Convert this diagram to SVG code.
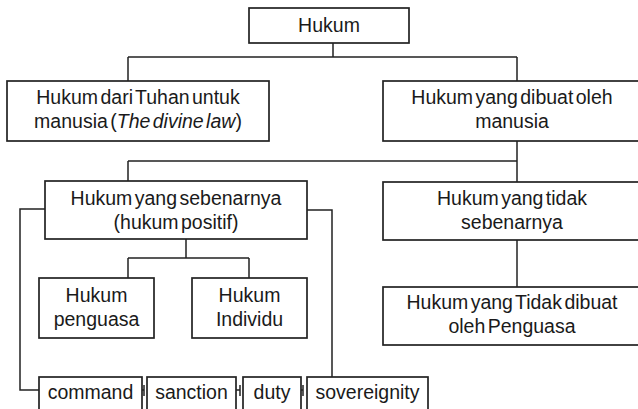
<svg xmlns="http://www.w3.org/2000/svg" width="638" height="409" viewBox="0 0 638 409">
<style>
.box{fill:#fff;stroke:#222;stroke-width:1.7}
.ln{fill:none;stroke:#222;stroke-width:1.5}
text{font-family:"Liberation Sans",Arial,sans-serif;font-size:19.5px;fill:#1a1a1a;text-anchor:middle;word-spacing:-3px}
</style>
<rect width="638" height="409" fill="#fff"/>
<g id="connectors">
<path class="ln" d="M333 43V57M128 57H517M128 57V81M517 57V81"/>
<path class="ln" d="M517 141V182M128 161H517M128 161V181"/>
<path class="ln" d="M517 240V287"/>
<path class="ln" d="M186 239V258M128 258H249M128 258V278M249 258V278"/>
<path class="ln" d="M45 209H20V390H39"/>
<path class="ln" d="M307 210H332V377"/>
<path class="ln" d="M142 390H144M144 385V396M236 390H240M240 385V396M301 390H303M303 385V396"/>
</g>
<g id="n-hukum"><rect class="box" x="249" y="8" width="160" height="35"/><text x="329" y="32">Hukum</text></g>
<g id="n-tuhan"><rect class="box" x="7" y="81" width="262" height="60"/><text x="138" y="104">Hukum dari Tuhan untuk</text><text x="138" y="128">manusia (<tspan font-style="italic">The divine law</tspan>)</text></g>
<g id="n-manusia"><rect class="box" x="383" y="81" width="258" height="60"/><text x="512" y="104">Hukum yang dibuat oleh</text><text x="512" y="128">manusia</text></g>
<g id="n-sebenarnya"><rect class="box" x="45" y="181" width="262" height="58"/><text x="176" y="205">Hukum yang sebenarnya</text><text x="176" y="229">(hukum positif)</text></g>
<g id="n-tidak"><rect class="box" x="383" y="182" width="258" height="58"/><text x="512" y="205">Hukum yang tidak</text><text x="512" y="229">sebenarnya</text></g>
<g id="n-penguasa"><rect class="box" x="39" y="278" width="115" height="60"/><text x="96.5" y="302">Hukum</text><text x="96.5" y="326">penguasa</text></g>
<g id="n-individu"><rect class="box" x="192" y="278" width="115" height="60"/><text x="249.5" y="302">Hukum</text><text x="249.5" y="326">Individu</text></g>
<g id="n-tidakdibuat"><rect class="box" x="383" y="287" width="258" height="58"/><text x="512" y="309">Hukum yang Tidak dibuat</text><text x="512" y="333">oleh Penguasa</text></g>
<g id="n-command"><rect class="box" x="39" y="377" width="103" height="40"/><text x="90.5" y="399">command</text></g>
<g id="n-sanction"><rect class="box" x="147" y="377" width="89" height="40"/><text x="191.5" y="399">sanction</text></g>
<g id="n-duty"><rect class="box" x="243" y="377" width="58" height="40"/><text x="272" y="399">duty</text></g>
<g id="n-sovereignity"><rect class="box" x="307" y="377" width="121" height="40"/><text x="367.5" y="399">sovereignity</text></g>
</svg>
